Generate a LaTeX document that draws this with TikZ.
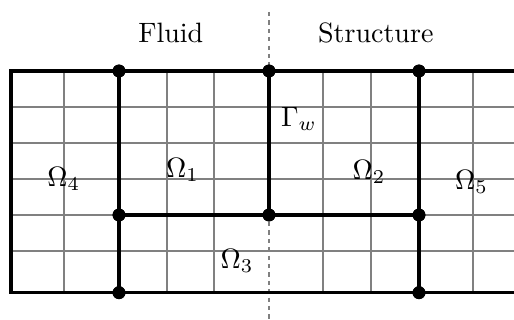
\documentclass[tikz,border=0pt]{standalone}
\begin{document}
\begin{tikzpicture}[x=0.357143pt,y=-0.357143pt,
  gridline/.style={draw=black!50,line width=0.7pt},
  bold/.style={draw=black,line width=1.1pt},
  dot/.style={circle,fill=black,inner sep=0pt,minimum size=4.6pt},
  sep/.style={draw=black!50,line width=0.6pt,dash pattern=on 1.5pt off 1.5pt},
  lab/.style={inner sep=0pt}]
\useasboundingbox (0,0) rectangle (514,320);
\begin{scope}
\clip (0,0) rectangle (514,320);
% grid
\foreach \x in {64.3,166.7,214.3,323,370.7,472.7}
  \draw[gridline] (\x,71) -- (\x,292.7);
\foreach \y in {107.3,143,179,215,251}
  \draw[gridline] (11,\y) -- (514,\y);
% separator
\coordinate (st) at (269,12);
\coordinate (sb) at (269,320);
\draw[sep] (st) -- (sb);
% corners and nodes
\coordinate (tl) at (11,71);
\coordinate (bl) at (11,292.7);
\coordinate (tr) at (514,71);
\coordinate (br) at (514,292.7);
\node[dot] (a1) at (119,71) {};
\node[dot] (a2) at (269,71) {};
\node[dot] (a3) at (419,71) {};
\node[dot] (b1) at (119,215) {};
\node[dot] (b2) at (269,215) {};
\node[dot] (b3) at (419,215) {};
\node[dot] (c1) at (119,292.7) {};
\node[dot] (c3) at (419,292.7) {};
\draw[bold] (tr) -- (tl) -- (bl) -- (br);
\draw[bold] (a1.center) -- (c1.center);
\draw[bold] (a3.center) -- (c3.center);
\draw[bold] (a2.center) -- (b2.center);
\draw[bold] (b1.center) -- (b3.center);
\foreach \n in {a1,a2,a3,b1,b2,b3,c1,c3}
  \fill (\n) circle (2.3pt);
\end{scope}
% labels
\node[lab] (fluid) at (170.8,33) {Fluid};
\node[lab] (struct) at (375.8,33) {Structure};
\node[lab] (o4) at (63.8,179) {$\Omega_4$};
\node[lab] (o1) at (182.5,170) {$\Omega_1$};
\node[lab] (o3) at (237,261) {$\Omega_3$};
\node[lab] (gw) at (299,119) {$\Gamma_w$};
\node[lab] (o2) at (369,172) {$\Omega_2$};
\node[lab] (o5) at (471.5,182) {$\Omega_5$};
\end{tikzpicture}
\end{document}
